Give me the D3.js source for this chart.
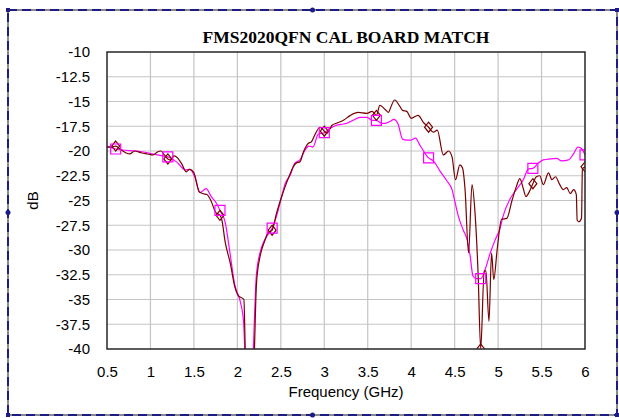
<!DOCTYPE html>
<html>
<head>
<meta charset="utf-8">
<script src="https://cdn.jsdelivr.net/npm/d3@7"></script>
<style>
  body { margin: 0; background: #fff; }
  text { font-family: Arial, "Liberation Sans", sans-serif; fill: #000; }
  .title { font-family: "Times New Roman", "Liberation Serif", serif; font-weight: bold; }
</style>
</head>
<body>
<div id="chart"></div>
<script>
// dark red trace (diamonds), [GHz, dB]
var traceA = [
  [0.50, -19.6], [0.55, -19.6], [0.60, -19.5], [0.65, -19.8], [0.72, -20.2], [0.76, -20.3],
  [0.82, -20.0], [0.90, -20.2], [0.97, -20.3], [1.03, -20.4], [1.08, -20.1], [1.12, -20.0],
  [1.16, -20.4], [1.20, -20.8], [1.23, -20.9], [1.27, -20.5], [1.30, -20.6], [1.36, -21.3],
  [1.41, -22.1], [1.45, -21.85], [1.50, -22.2], [1.56, -24.1], [1.60, -24.3], [1.65, -24.4],
  [1.70, -25.1], [1.75, -26.2], [1.80, -26.5], [1.82, -26.9], [1.86, -29.2], [1.92, -31.4],
  [1.97, -33.7], [2.01, -34.6], [2.075, -35.0], [2.095, -42], [2.15, -50], [2.19, -42],
  [2.22, -33.4], [2.26, -30.7], [2.31, -29.2], [2.35, -28.3], [2.40, -28.0], [2.45, -26.3],
  [2.51, -24.6], [2.55, -23.6], [2.61, -22.25], [2.64, -21.65], [2.68, -21.2], [2.72, -21.1],
  [2.76, -20.1], [2.82, -19.2], [2.85, -19.1], [2.89, -18.4], [2.95, -17.6], [3.00, -18.0],
  [3.03, -18.2], [3.09, -17.4], [3.14, -17.2], [3.22, -16.9], [3.30, -16.4], [3.39, -16.1],
  [3.49, -16.2], [3.55, -16.0], [3.60, -16.4], [3.64, -15.4], [3.70, -15.8], [3.74, -16.1],
  [3.76, -15.7], [3.81, -14.85], [3.87, -15.5], [3.90, -15.9], [3.95, -16.0], [4.00, -16.7],
  [4.08, -16.4], [4.14, -17.1], [4.20, -17.6], [4.255, -18.1], [4.30, -17.9], [4.37, -20.4],
  [4.43, -20.0], [4.47, -20.6], [4.51, -22.9], [4.56, -21.4], [4.59, -21.7], [4.62, -23.9],
  [4.66, -30.3], [4.70, -23.4], [4.735, -26.3], [4.77, -32.4], [4.80, -40.0], [4.84, -32.1],
  [4.86, -32.1], [4.895, -37.2], [4.925, -30.3], [4.95, -33.0], [4.99, -29.9], [5.04, -26.9],
  [5.10, -26.8], [5.16, -25.0], [5.21, -23.6], [5.25, -22.8], [5.29, -23.8], [5.32, -24.6],
  [5.36, -24.1], [5.40, -23.3], [5.44, -22.6], [5.48, -22.5], [5.52, -23.4], [5.58, -22.2],
  [5.62, -22.9], [5.66, -22.6], [5.71, -23.4], [5.75, -23.9], [5.79, -23.7], [5.83, -24.3],
  [5.87, -23.9], [5.90, -24.4], [5.91, -27.0], [5.93, -27.15], [5.96, -26.8], [5.97, -21.8],
  [6.00, -21.6]
];

// magenta trace (squares), [GHz, dB]
var traceB = [
  [0.50, -19.5], [0.60, -19.8], [0.68, -19.9], [0.82, -20.0], [0.92, -20.1], [1.03, -20.3],
  [1.14, -20.5], [1.20, -20.6], [1.30, -21.1], [1.40, -21.9], [1.455, -21.85], [1.51, -22.6],
  [1.57, -24.2], [1.64, -23.8], [1.70, -24.6], [1.76, -25.3], [1.80, -26.0], [1.86, -27.2],
  [1.915, -30.3], [1.97, -33.5], [2.03, -35.1], [2.07, -37.1], [2.09, -41], [2.14, -50],
  [2.18, -41], [2.22, -32.4], [2.28, -29.7], [2.34, -28.6], [2.40, -27.8], [2.45, -26.6],
  [2.51, -24.6], [2.55, -23.3], [2.61, -22.4], [2.66, -21.25], [2.72, -20.9], [2.78, -19.9],
  [2.82, -19.5], [2.87, -19.6], [2.93, -18.3], [3.00, -18.15], [3.07, -17.7], [3.14, -17.4],
  [3.20, -17.3], [3.26, -17.2], [3.33, -16.9], [3.41, -16.6], [3.49, -16.6], [3.55, -16.9],
  [3.60, -16.9], [3.66, -17.2], [3.70, -17.2], [3.76, -17.0], [3.80, -16.8], [3.85, -17.3],
  [3.90, -18.8], [3.95, -18.9], [4.00, -18.9], [4.05, -18.7], [4.10, -19.4], [4.20, -20.7],
  [4.255, -21.0], [4.33, -22.0], [4.41, -23.0], [4.47, -23.9], [4.505, -25.2], [4.54, -26.5],
  [4.60, -28.0], [4.645, -29.0], [4.68, -30.7], [4.71, -32.6], [4.75, -32.9], [4.80, -32.9],
  [4.85, -32.0], [4.91, -30.3], [4.965, -29.0], [5.02, -27.9], [5.06, -26.5], [5.14, -24.8],
  [5.21, -23.9], [5.29, -22.9], [5.35, -21.8], [5.40, -21.75], [5.46, -21.25], [5.52, -20.9],
  [5.60, -20.8], [5.675, -20.75], [5.73, -21.0], [5.81, -20.9], [5.86, -20.4], [5.92, -19.6],
  [5.96, -19.75], [6.00, -20.4]
];

var markerGHz = [0.6, 1.2, 1.8, 2.4, 3.0, 3.6, 4.2, 4.8, 5.4, 6.0];
var xTicks = [0.5, 1, 1.5, 2, 2.5, 3, 3.5, 4, 4.5, 5, 5.5, 6];
var yTicks = [-40, -37.5, -35, -32.5, -30, -27.5, -25, -22.5, -20, -17.5, -15, -12.5, -10];
var title = "FMS2020QFN CAL BOARD MATCH";
var xLabel = "Frequency (GHz)";
var yLabel = "dB";

var width = 619, height = 418;
var margin = { top: 52, right: 34, bottom: 69, left: 107 };
var plotW = width - margin.left - margin.right,
  plotH = height - margin.top - margin.bottom;

var svg = d3.select("#chart").append("svg").attr("width", width).attr("height", height);

// selection frame round the chart
var frame = { x: 8, y: 10, w: 609, h: 405 };
svg.append("rect")
  .attr("x", frame.x).attr("y", frame.y).attr("width", frame.w).attr("height", frame.h)
  .attr("fill", "none").attr("stroke", "#8a8a8a").attr("stroke-width", 2);
svg.append("rect")
  .attr("x", frame.x).attr("y", frame.y).attr("width", frame.w).attr("height", frame.h)
  .attr("fill", "none").attr("stroke", "#1c1c84").attr("stroke-width", 2)
  .attr("stroke-dasharray", "9,5");
var corners = [[0, 0], [1, 0], [0, 1], [1, 1]];
svg.selectAll("rect.handle").data(corners).enter().append("rect")
  .attr("class", "handle")
  .attr("x", function (d) { return frame.x + d[0] * frame.w - 2; })
  .attr("y", function (d) { return frame.y + d[1] * frame.h - 2; })
  .attr("width", 4).attr("height", 4).attr("fill", "#1c1c84");
var mids = [[0.5, 0], [0.5, 1], [0, 0.5], [1, 0.5]];
svg.selectAll("circle.handle").data(mids).enter().append("circle")
  .attr("class", "handle")
  .attr("cx", function (d) { return frame.x + d[0] * frame.w; })
  .attr("cy", function (d) { return frame.y + d[1] * frame.h; })
  .attr("r", 2.5).attr("fill", "#1c1c84");

var g = svg.append("g").attr("transform", "translate(" + margin.left + "," + margin.top + ")");

var x = d3.scaleLinear().domain([0.5, 6]).range([0, plotW]);
var y = d3.scaleLinear().domain([-40, -10]).range([plotH, 0]);

// grid
g.append("g").selectAll("line").data(xTicks.slice(1, -1)).enter().append("line")
  .attr("x1", function (d) { return x(d); }).attr("x2", function (d) { return x(d); })
  .attr("y1", 0).attr("y2", plotH)
  .attr("stroke", "#c4c4c4").attr("stroke-width", 1.2);
g.append("g").selectAll("line").data(yTicks.slice(1, -1)).enter().append("line")
  .attr("y1", function (d) { return y(d); }).attr("y2", function (d) { return y(d); })
  .attr("x1", 0).attr("x2", plotW)
  .attr("stroke", "#c4c4c4").attr("stroke-width", 1.2);

// axes (labels only)
var xAxis = d3.axisBottom(x).tickValues(xTicks).tickSize(0).tickPadding(17)
  .tickFormat(function (d) { return String(d); });
var yAxis = d3.axisLeft(y).tickValues(yTicks).tickSize(0).tickPadding(17)
  .tickFormat(function (d) { return String(d); });
var gx = g.append("g").attr("transform", "translate(0," + plotH + ")").call(xAxis);
var gy = g.append("g").call(yAxis);
[gx, gy].forEach(function (a) {
  a.select(".domain").remove();
  a.selectAll("text").style("font-size", "15px").style("font-family", "Arial, 'Liberation Sans', sans-serif");
});

g.append("defs").append("clipPath").attr("id", "plotclip")
  .append("rect").attr("width", plotW).attr("height", plotH);

var line = d3.line()
  .x(function (d) { return x(d[0]); })
  .y(function (d) { return y(d[1]); })
  .curve(d3.curveMonotoneX);

var series = [
  { data: traceA, color: "#7a0000", marker: "diamond" },
  { data: traceB, color: "#ff00ff", marker: "square" }
];

var plot = g.append("g").attr("clip-path", "url(#plotclip)");
series.slice().reverse().forEach(function (s) {
  plot.append("path").datum(s.data)
    .attr("fill", "none").attr("stroke", s.color).attr("stroke-width", 1.2)
    .attr("d", line);
});
series.forEach(function (s) {
  var pts = s.data.filter(function (d) {
    return markerGHz.some(function (m) { return Math.abs(m - d[0]) < 1e-6; });
  });
  var sym = s.marker === "square"
    ? "M-5,-5H5V5H-5Z"
    : "M0,-5L4,0L0,5L-4,0Z";
  plot.append("g").selectAll("path").data(pts).enter().append("path")
    .attr("transform", function (d) { return "translate(" + x(d[0]) + "," + y(d[1]) + ")"; })
    .attr("d", sym)
    .attr("fill", "none").attr("stroke", s.color).attr("stroke-width", 1.2);
});

// plot frame
g.append("rect").attr("width", plotW).attr("height", plotH)
  .attr("fill", "none").attr("stroke", "#262626").attr("stroke-width", 1.5);

svg.append("text").attr("class", "title")
  .attr("x", margin.left + plotW / 2).attr("y", 43)
  .attr("text-anchor", "middle").style("font-size", "17.5px")
  .text(title);
svg.append("text")
  .attr("x", margin.left + plotW / 2).attr("y", 397)
  .attr("text-anchor", "middle").style("font-size", "15px")
  .text(xLabel);
svg.append("text")
  .attr("transform", "translate(38," + (margin.top + plotH / 2) + ") rotate(-90)")
  .attr("text-anchor", "middle").style("font-size", "15px")
  .text(yLabel);
</script>
</body>
</html>
